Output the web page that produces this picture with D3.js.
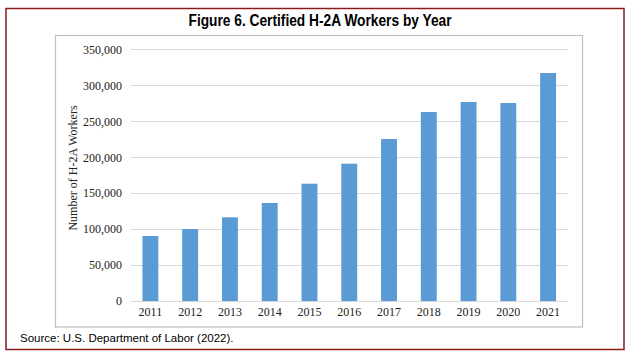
<!DOCTYPE html>
<html>
<head>
<meta charset="utf-8">
<script src="https://cdn.jsdelivr.net/npm/d3@7"></script>
<style>
html,body{margin:0;padding:0;background:#fff;}
svg{display:block;}
</style>
</head>
<body>
<svg id="chart" width="637" height="356"></svg>
<script>
const years = ["2011","2012","2013","2014","2015","2016","2017","2018","2019","2020","2021"];
const workers = [90400, 100100, 116400, 136300, 163100, 190900, 225300, 262800, 276700, 275300, 317000];
const yTicks = [0, 50000, 100000, 150000, 200000, 250000, 300000, 350000];
const titleText = "Figure 6. Certified H-2A Workers by Year";
const yAxisTitle = "Number of H-2A Workers";
const sourceText = "Source: U.S. Department of Labor (2022).";

const svg = d3.select("#chart");

// outer frame
svg.append("rect").attr("x",6).attr("y",8.5).attr("width",618).attr("height",341)
  .attr("fill","none").attr("stroke","#8b1a1a").attr("stroke-width",1.5);

// title
svg.append("text").attr("x",320).attr("y",26).attr("text-anchor","middle")
  .attr("font-family","'Liberation Sans Narrow','Arial Narrow','Liberation Sans',Arial,sans-serif")
  .attr("font-weight","bold").attr("font-size",16).attr("fill","#000")
  .attr("textLength",263).attr("lengthAdjust","spacingAndGlyphs").text(titleText);

// inner chart box
svg.append("rect").attr("x",55.5).attr("y",35.5).attr("width",527).attr("height",291.5)
  .attr("fill","#fff").attr("stroke","#bfbfbf").attr("stroke-width",1.2);

const plotLeft = 130.5, plotRight = 568, plotTop = 49.3, plotBottom = 301;
const x = d3.scaleBand().domain(years).range([plotLeft, plotRight]).paddingInner(0.6).paddingOuter(0.3);
const y = d3.scaleLinear().domain([0, 350000]).range([plotBottom, plotTop]);

// gridlines
svg.append("g").selectAll("line").data(yTicks).join("line")
  .attr("x1",plotLeft).attr("x2",plotRight)
  .attr("y1",d=>Math.round(y(d))+0.5).attr("y2",d=>Math.round(y(d))+0.5)
  .attr("stroke","#d9d9d9").attr("stroke-width",1);

// bars
svg.append("g").selectAll("rect").data(workers).join("rect")
  .attr("x",(d,i)=>x(years[i])).attr("width",x.bandwidth())
  .attr("y",d=>y(d)).attr("height",d=>y(0)-y(d))
  .attr("fill","#5b9bd5");

// y axis
const yAxis = d3.axisLeft(y).tickValues(yTicks).tickSize(0).tickPadding(0)
  .tickFormat(d3.format(","));
const gy = svg.append("g").attr("transform",`translate(${122},0)`).call(yAxis);
gy.select(".domain").remove();
gy.selectAll("text").attr("font-family","'Liberation Serif','Times New Roman',serif")
  .attr("font-size",12).attr("fill","#222");

// x axis
const xAxis = d3.axisBottom(x).tickSize(0).tickPadding(0);
const gx = svg.append("g").attr("transform",`translate(0,${307})`).call(xAxis);
gx.select(".domain").remove();
gx.selectAll("text").attr("font-family","'Liberation Serif','Times New Roman',serif")
  .attr("font-size",12).attr("fill","#222");

// y axis title
svg.append("text").attr("transform","translate(77,168) rotate(-90)").attr("text-anchor","middle")
  .attr("font-family","'Liberation Serif','Times New Roman',serif").attr("font-size",12)
  .attr("fill","#222").text(yAxisTitle);

// source
svg.append("text").attr("x",20).attr("y",342)
  .attr("font-family","'Liberation Sans',Arial,sans-serif").attr("font-size",11.5)
  .attr("fill","#000").text(sourceText);
</script>
</body>
</html>
